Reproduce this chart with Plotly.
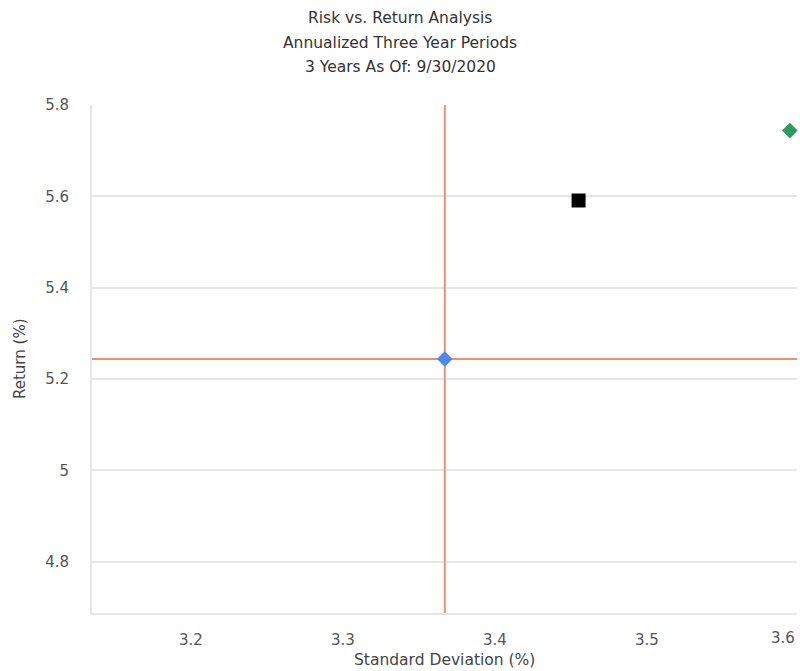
import plotly.graph_objects as go

# Data
series_names = ["Benchmark", "Portfolio", "Peer"]
std_dev = [3.367, 3.455, 3.594]
returns = [5.244, 5.591, 5.744]
marker_symbols = ["diamond", "square", "diamond"]
marker_colors = ["#4F86EC", "#000000", "#2F9A5F"]
marker_sizes = [12, 14, 12]

title_lines = ["Risk vs. Return Analysis", "Annualized Three Year Periods", "3 Years As Of: 9/30/2020"]
x_tickvals = [3.2, 3.3, 3.4, 3.5]
x_last_tick_label = "3.6"
y_tickvals = [4.8, 5.0, 5.2, 5.4, 5.6, 5.8]
y_ticktext = ["4.8", "5", "5.2", "5.4", "5.6", "5.8"]
x_range = [3.1349, 3.5987]
y_range = [4.688, 5.8]

FONT = "DejaVu Sans"
LINE_COLOR = "#EF8F72"
GRID = "#E6E6E6"

W, H = 800, 671
ML, MR, MT, MB = 92, 3, 105, 58

fig = go.Figure()

# benchmark crosshair lines through the benchmark point
bx, by = std_dev[0], returns[0]
fig.add_trace(go.Scatter(x=[bx, bx], y=y_range, mode="lines",
                         line=dict(color=LINE_COLOR, width=2), hoverinfo="skip", showlegend=False))
fig.add_trace(go.Scatter(x=x_range, y=[by, by], mode="lines",
                         line=dict(color=LINE_COLOR, width=2), hoverinfo="skip", showlegend=False))

for name, xv, yv, sym, col, sz in zip(series_names, std_dev, returns, marker_symbols, marker_colors, marker_sizes):
    fig.add_trace(go.Scatter(x=[xv], y=[yv], mode="markers", name=name,
                             marker=dict(symbol=sym, color=col, size=sz, line=dict(width=0)),
                             cliponaxis=False, showlegend=False))

# title centred on the whole page (not the plot area)
title_x = (W / 2 - ML) / (W - ML - MR)
annotations = []
for line, shift in zip(title_lines, [87, 62, 38]):
    annotations.append(dict(text=line, x=title_x, y=1, xref="paper", yref="paper",
                            xanchor="center", yanchor="middle", yshift=shift, showarrow=False,
                            font=dict(family=FONT, size=15.5, color="#333333")))
# last x tick label, kept inside the figure edge as in the reference
annotations.append(dict(text=x_last_tick_label, x=1, y=0, xref="paper", yref="paper",
                        xanchor="right", yanchor="middle", yshift=-25, xshift=0, showarrow=False,
                        font=dict(family=FONT, size=15, color="#555555")))
annotations.append(dict(text="Standard Deviation (%)", x=0.5, y=0, xref="paper", yref="paper",
                        xanchor="center", yanchor="middle", yshift=-47, showarrow=False,
                        font=dict(family=FONT, size=15.5, color="#444444")))
annotations.append(dict(text="Return (%)", x=0, y=0.5, xref="paper", yref="paper",
                        xanchor="center", yanchor="middle", xshift=-72, textangle=-90, showarrow=False,
                        font=dict(family=FONT, size=15, color="#444444")))

fig.update_layout(
    width=W, height=H,
    margin=dict(l=ML, r=MR, t=MT, b=MB),
    paper_bgcolor="white", plot_bgcolor="white",
    annotations=annotations,
    showlegend=False,
)
fig.update_xaxes(range=x_range, tickvals=x_tickvals, ticks="", showgrid=False,
                 showline=True, linecolor=GRID, linewidth=2, zeroline=False,
                 ticklabelstandoff=12,
                 tickfont=dict(family=FONT, size=15, color="#555555"))
fig.update_yaxes(range=y_range, tickvals=y_tickvals, ticktext=y_ticktext,
                 ticks="", showgrid=True, gridcolor=GRID, gridwidth=2,
                 showline=True, linecolor=GRID, linewidth=2, zeroline=False,
                 ticklabelstandoff=18,
                 tickfont=dict(family=FONT, size=15, color="#555555"))

fig.write_html("out.html", config={"displayModeBar": False},
               post_script="document.body.style.margin='0';")
